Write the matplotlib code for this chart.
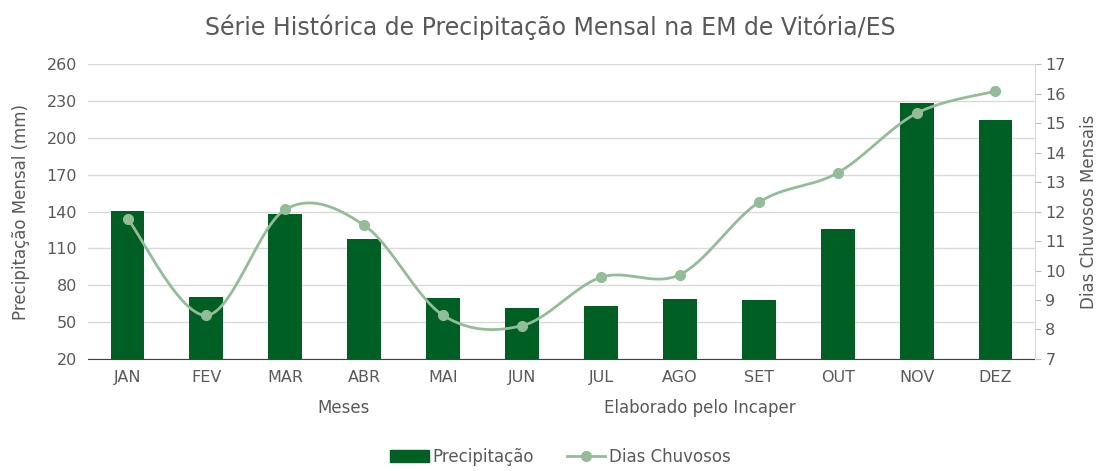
import numpy as np
import matplotlib.pyplot as plt
from matplotlib.lines import Line2D
from matplotlib.patches import Patch

meses = ["JAN", "FEV", "MAR", "ABR", "MAI", "JUN", "JUL", "AGO", "SET", "OUT", "NOV", "DEZ"]
precipitacao = [140.4, 70.2, 137.7, 117.6, 69.9, 61.2, 62.9, 68.8, 68.0, 125.5, 228.0, 214.5]
dias_chuvosos = [11.76, 8.48, 12.07, 11.53, 8.48, 8.13, 9.77, 9.86, 12.31, 13.31, 15.33, 16.08]

bar_color = "#005F23"
line_color = "#93BC98"
text_color = "#595959"


def smooth(xs, ys, n=30):
    # catmull-rom curve through the points, like the spreadsheet "smoothed line"
    xs = np.asarray(xs, float)
    ys = np.asarray(ys, float)
    px = np.concatenate([[xs[0]], xs, [xs[-1]]])
    py = np.concatenate([[ys[0]], ys, [ys[-1]]])
    outx, outy = [], []
    for i in range(1, len(px) - 2):
        t = np.linspace(0, 1, n)
        for p, out in ((px, outx), (py, outy)):
            p0, p1, p2, p3 = p[i - 1], p[i], p[i + 1], p[i + 2]
            out.extend(0.5 * ((2 * p1) + (-p0 + p2) * t
                              + (2 * p0 - 5 * p1 + 4 * p2 - p3) * t ** 2
                              + (-p0 + 3 * p1 - 3 * p2 + p3) * t ** 3))
    return outx, outy


plt.rcParams["font.family"] = ["DejaVu Sans"]
fig = plt.figure(figsize=(11.01, 4.71), dpi=100)
ax = fig.add_axes([0.080, 0.2378, 0.860, 0.6263])
x = np.arange(len(meses))

ax.bar(x, precipitacao, width=0.43, color=bar_color, zorder=2)
ax.set_ylim(20, 260)
ax.set_yticks(range(20, 261, 30))
ax.set_xlim(-0.5, len(meses) - 0.5)
ax.set_xticks(x)
ax.set_xticklabels(meses)
ax.grid(axis="y", color="#d9d9d9", linewidth=1, zorder=0)
for s in ["top", "right", "left"]:
    ax.spines[s].set_visible(False)
ax.spines["bottom"].set_color("#404040")
ax.tick_params(axis="both", length=0, colors=text_color, labelsize=11.5, pad=8)
ax.set_ylabel("Precipitação Mensal (mm)", color=text_color, fontsize=12, labelpad=12)

ax2 = ax.twinx()
ax2.set_ylim(7, 17)
ax2.set_yticks(range(7, 18))
sx, sy = smooth(x, dias_chuvosos)
ax2.plot(sx, sy, color=line_color, linewidth=2, zorder=3)
ax2.plot(x, dias_chuvosos, "o", color=line_color, markersize=7, zorder=4)
for s in ["top", "left", "bottom"]:
    ax2.spines[s].set_visible(False)
ax2.spines["right"].set_color("#d9d9d9")
ax2.tick_params(axis="y", colors=text_color, labelsize=11.5, length=4, color="#bfbfbf")
ax2.set_ylabel("Dias Chuvosos Mensais", color=text_color, fontsize=12, labelpad=10)

fig.text(0.5, 0.943, "Série Histórica de Precipitação Mensal na EM de Vitória/ES",
         ha="center", va="center", fontsize=17, color=text_color)
fig.text(0.312, 0.133, "Meses", ha="center", va="center", fontsize=12, color=text_color)
fig.text(0.636, 0.133, "Elaborado pelo Incaper", ha="center", va="center", fontsize=12, color=text_color)

handles = [Patch(color=bar_color),
           Line2D([], [], color=line_color, linewidth=2, marker="o", markersize=7)]
fig.legend(handles, ["Precipitação", "Dias Chuvosos"], loc="center", bbox_to_anchor=(0.509, 0.03),
           ncol=2, frameon=False, fontsize=12, labelcolor=text_color,
           handlelength=2.3, handletextpad=0.2, columnspacing=2)

fig.savefig("out.png", dpi=100)
